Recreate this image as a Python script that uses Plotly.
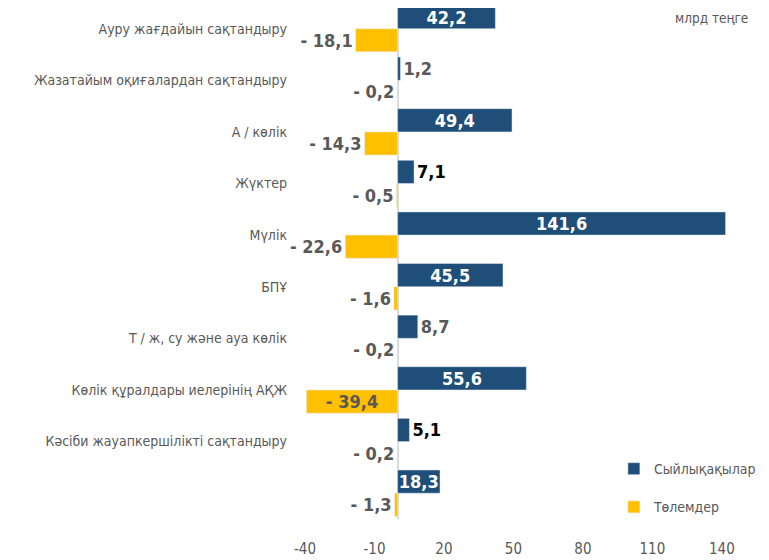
import plotly.graph_objects as go

categories = [
    'Ауру жағдайын сақтандыру',
    'Жазатайым оқиғалардан сақтандыру',
    'А / көлік',
    'Жүктер',
    'Мүлік',
    'БПҰ',
    'Т / ж, су және ауа көлік',
    'Көлік құралдары иелерінің АҚЖ',
    'Кәсіби жауапкершілікті сақтандыру',
    '',
]
premiums = [42.2, 1.2, 49.4, 7.1, 141.6, 45.5, 8.7, 55.6, 5.1, 18.3]
payments = [-18.1, -0.2, -14.3, -0.5, -22.6, -1.6, -0.2, -39.4, -0.2, -1.3]
x_ticks = [-40, -10, 20, 50, 80, 110, 140]

FONT = 'DejaVu Sans Condensed, Roboto, sans-serif'
BLUE = '#1F4E79'
YELLOW = '#FFC000'
GREY = '#595959'

ids = [f'c{i}' for i in range(len(categories))]


def fmt(v):
    s = f'{abs(v):.1f}'.replace('.', ',')
    return ('- ' + s) if v < 0 else s


# blue labels: inside for the long bars, outside for the short ones
prem_pos, prem_col = [], []
for v in premiums:
    if v > 15:
        prem_pos.append('inside')
        prem_col.append('white')
    else:
        prem_pos.append('outside')
        prem_col.append(GREY if v in (1.2, 8.7) else 'black')

pay_pos = ['inside' if v < -30 else 'outside' for v in payments]

fig = go.Figure()
fig.add_trace(go.Bar(
    y=ids, x=premiums, orientation='h', name='Сыйлықақылар',
    marker_color=BLUE, legendgroup='a',
    text=[fmt(v) for v in premiums], textposition=prem_pos,
    insidetextanchor='middle',
    textfont=dict(family=FONT, size=18, color=prem_col, weight='bold'),
    cliponaxis=False,
))
fig.add_trace(go.Bar(
    y=ids, x=payments, orientation='h', name='Төлемдер',
    marker_color=YELLOW, legendgroup='b',
    text=[fmt(v) for v in payments], textposition=pay_pos,
    insidetextanchor='middle',
    textfont=dict(family=FONT, size=18, color=GREY, weight='bold'),
    cliponaxis=False,
))

fig.add_annotation(text='млрд теңге', xref='paper', yref='paper',
                   x=1.0, y=0.98, xanchor='right', yanchor='middle', xshift=5,
                   showarrow=False, font=dict(family=FONT, size=13.5, color=GREY))

# the page body adds an 8px offset, so the figure is sized to the visible area
fig.update_layout(
    width=761, height=552,
    margin=dict(l=297, r=24, t=0, b=41, autoexpand=False),
    paper_bgcolor='white', plot_bgcolor='white',
    barmode='group', bargap=0.1, bargroupgap=0,
    uniformtext=dict(minsize=16, mode='show'),
    font=dict(family=FONT, color=GREY, size=15),
    legend=dict(x=0.702, y=0.129, xanchor='left', yanchor='top',
                font=dict(family=FONT, size=14, color=GREY),
                traceorder='grouped', tracegroupgap=17,
                bgcolor='rgba(0,0,0,0)'),
)
fig.update_xaxes(range=[-40, 150], tickvals=x_ticks,
                 ticktext=[str(v) for v in x_ticks], showgrid=False,
                 zeroline=True, zerolinecolor='#D9D9D9', zerolinewidth=2,
                 showline=False, ticks='', ticklabelstandoff=19,
                 tickfont=dict(family=FONT, size=15, color=GREY))
fig.update_yaxes(tickvals=ids, ticktext=categories, range=[9.5, -0.4],
                 showgrid=False, zeroline=False, showline=False, ticks='',
                 ticklabelstandoff=17,
                 tickfont=dict(family=FONT, size=14, color=GREY))

fig.write_html('out.html')
